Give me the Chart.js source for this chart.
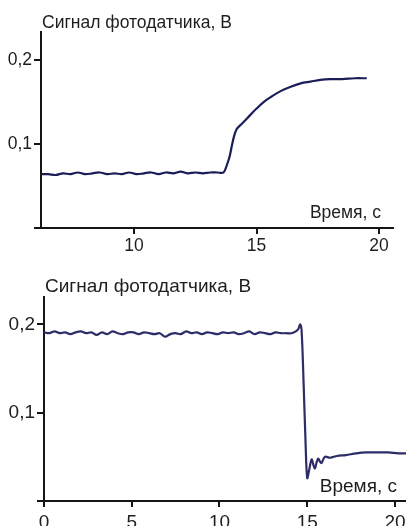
<!DOCTYPE html>
<html>
<head>
<meta charset="utf-8">
<script src="https://cdn.jsdelivr.net/npm/chart.js@4.4.1/dist/chart.umd.min.js"></script>
<style>
  html, body { margin: 0; padding: 0; background: #fff; }
  #wrap { position: relative; width: 406px; height: 526px; overflow: hidden; }
  canvas { position: absolute; left: 0; }
</style>
</head>
<body>
<div id="wrap">
  <canvas id="c1" width="406" height="260" style="top:0"></canvas>
  <canvas id="c2" width="406" height="266" style="top:260px"></canvas>
</div>
<script>
// ---- Data ----
const yTitle = "Сигнал фотодатчика, В";
const xTitle = "Время, с";

const topTimes = [6.2,6.5,6.8,7.1,7.4,7.7,8.0,8.3,8.6,8.9,9.2,9.5,9.8,10.1,10.4,10.7,11.0,11.3,11.6,11.9,12.2,12.5,12.8,13.1,13.4,13.65,13.8,13.9,14.0,14.1,14.2,14.4,14.6,14.8,15.0,15.3,15.6,16.0,16.4,16.8,17.2,17.6,18.0,18.5,19.0,19.5];
const topValues = [0.064,0.064,0.063,0.065,0.064,0.066,0.064,0.065,0.066,0.064,0.065,0.064,0.066,0.064,0.065,0.066,0.064,0.066,0.065,0.067,0.065,0.066,0.065,0.066,0.066,0.066,0.076,0.085,0.099,0.111,0.118,0.124,0.130,0.136,0.142,0.150,0.156,0.163,0.168,0.172,0.174,0.176,0.177,0.177,0.178,0.178];

const bottomTimes = [0,0.3,0.6,0.9,1.2,1.5,1.8,2.1,2.4,2.7,3.0,3.3,3.6,3.9,4.2,4.5,4.8,5.1,5.4,5.7,6.0,6.3,6.6,6.9,7.2,7.5,7.8,8.1,8.4,8.7,9.0,9.3,9.6,9.9,10.2,10.5,10.8,11.1,11.4,11.7,12.0,12.3,12.6,12.9,13.2,13.5,13.8,14.1,14.35,14.5,14.6,14.68,14.8,14.9,15.0,15.12,15.25,15.35,15.44,15.54,15.63,15.72,15.82,16.0,16.3,16.7,17.2,17.8,18.4,19.0,19.6,20.2,20.63];
const bottomValues = [0.191,0.190,0.192,0.190,0.191,0.189,0.191,0.192,0.190,0.191,0.188,0.191,0.189,0.192,0.190,0.189,0.191,0.191,0.189,0.191,0.190,0.189,0.190,0.186,0.189,0.190,0.189,0.192,0.190,0.191,0.189,0.191,0.190,0.189,0.191,0.190,0.191,0.189,0.190,0.192,0.189,0.191,0.190,0.189,0.191,0.190,0.190,0.190,0.192,0.195,0.200,0.193,0.130,0.070,0.026,0.036,0.047,0.041,0.037,0.044,0.048,0.045,0.043,0.050,0.049,0.051,0.052,0.054,0.055,0.055,0.055,0.054,0.054];

const topXTicks = [10, 15, 20];
const bottomXTicks = [0, 5, 10, 15, 20];
const yTicks = [0, 0.1, 0.2];

// ---- Chart builder ----
function makeChart(id, times, values, cfg) {
  const pts = times.map((t, i) => ({ x: t, y: values[i] }));
  const textPlugin = {
    id: 'texts_' + id,
    afterDraw(chart) {
      const ctx = chart.ctx;
      const a = chart.chartArea;
      ctx.save();
      ctx.fillStyle = '#1e1e1e';
      ctx.font = cfg.titleFont + 'px "Liberation Sans", Arial, sans-serif';
      ctx.textBaseline = 'alphabetic';
      ctx.textAlign = 'left';
      ctx.fillText(yTitle, cfg.yTitleX, cfg.yTitleY);
      ctx.textAlign = 'right';
      ctx.fillText(xTitle, cfg.xTitleRight, cfg.xTitleY);
      ctx.restore();
    }
  };
  const axisColor = '#151515';
  return new Chart(document.getElementById(id), {
    type: 'line',
    data: {
      datasets: [{
        data: pts,
        borderColor: cfg.lineColor,
        borderWidth: 2.2,
        pointRadius: 0,
        tension: 0.35,
        fill: false
      }]
    },
    options: {
      responsive: false,
      animation: false,
      devicePixelRatio: 1,
      layout: { padding: cfg.padding },
      plugins: { legend: { display: false }, tooltip: { enabled: false } },
      scales: {
        x: {
          type: 'linear',
          min: cfg.xMin, max: cfg.xMax,
          afterBuildTicks(s) { s.ticks = cfg.xTicks.map(v => ({ value: v })); },
          afterFit(s) { s.height = cfg.xAxisH; s.paddingLeft = 0; s.paddingRight = 0; },
          border: { display: true, color: axisColor, width: 2 },
          grid: { drawOnChartArea: false, drawTicks: true, tickLength: 6, color: axisColor, lineWidth: 2 },
          ticks: {
            padding: cfg.xTickPad,
            color: '#1e1e1e',
            maxRotation: 0,
            autoSkip: false,
            font: { family: '"Liberation Sans", Arial, sans-serif', size: cfg.tickFont },
            callback: v => String(v)
          }
        },
        y: {
          type: 'linear',
          min: 0, max: cfg.yMax,
          afterBuildTicks(s) { s.ticks = yTicks.map(v => ({ value: v })); },
          afterFit(s) { s.width = cfg.yAxisW; s.paddingTop = 0; s.paddingBottom = 0; },
          border: { display: true, color: axisColor, width: 2 },
          grid: { drawOnChartArea: false, drawTicks: true, tickLength: 7, color: axisColor, lineWidth: 2 },
          ticks: {
            padding: 2,
            color: '#1e1e1e',
            autoSkip: false,
            font: { family: '"Liberation Sans", Arial, sans-serif', size: cfg.tickFont },
            callback: v => v === 0 ? '' : v.toFixed(1).replace('.', ',')
          }
        }
      }
    },
    plugins: [textPlugin]
  });
}

makeChart('c1', topTimes, topValues, {
  xMin: 6.2, xMax: 20.57, yMax: 0.233,
  xTicks: topXTicks,
  padding: { left: 0, right: 13, top: 32, bottom: 0 },
  yAxisW: 41, xAxisH: 32, xTickPad: 2,
  tickFont: 17.5, titleFont: 17.5,
  yTitleX: 42, yTitleY: 28, xTitleRight: 381, xTitleY: 218,
  lineColor: '#1b1d58'
});

makeChart('c2', bottomTimes, bottomValues, {
  xMin: 0, xMax: 20.63, yMax: 0.231,
  xTicks: bottomXTicks,
  padding: { left: 0, right: 0, top: 37, bottom: 0 },
  yAxisW: 44, xAxisH: 25, xTickPad: 4,
  tickFont: 19, titleFont: 19,
  yTitleX: 45, yTitleY: 32, xTitleRight: 397, xTitleY: 232,
  lineColor: '#2c2d68'
});
</script>
</body>
</html>
